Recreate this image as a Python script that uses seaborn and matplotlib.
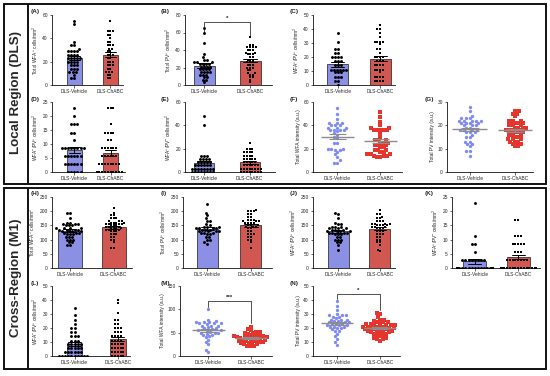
import numpy as np
import pandas as pd
import matplotlib
matplotlib.use("Agg")
import matplotlib.pyplot as plt
import seaborn as sns
from matplotlib.patches import Rectangle
from matplotlib.lines import Line2D

groups = ["DLS-Vehicle", "DLS-ChABC"]

# ---- data ----
A_veh = [55, 52, 37, 34, 34, 31, 29, 29, 29, 29, 26, 26, 26, 26, 23, 23, 23, 23, 23, 20, 20, 20, 20, 17, 17, 17, 14, 14, 14, 11, 11, 11, 9, 6, 6]
A_cha = [55, 46, 46, 46, 43, 43, 40, 37, 37, 34, 34, 34, 31, 31, 29, 29, 26, 26, 26, 23, 23, 20, 20, 20, 17, 17, 17, 14, 14, 11, 11, 11, 9, 9, 6, 6]
B_veh = [65, 60, 48, 35, 32, 29, 29, 26, 26, 26, 24, 24, 24, 24, 21, 21, 21, 21, 18, 18, 18, 18, 15, 15, 15, 15, 12, 12, 12, 9, 9, 6, 6, 3]
B_cha = [55, 46, 46, 43, 43, 43, 43, 40, 40, 40, 37, 37, 35, 35, 35, 32, 32, 29, 29, 29, 26, 26, 26, 23, 23, 23, 20, 20, 20, 17, 17, 14, 14, 12, 12, 9, 9, 6, 3]
C_veh = [37, 31, 26, 26, 23, 23, 20, 20, 20, 20, 17, 17, 17, 14, 14, 14, 11, 11, 11, 11, 11, 11, 9, 9, 9, 6, 6, 6, 3, 3, 0]
C_cha = [43, 40, 40, 37, 34, 31, 31, 31, 31, 29, 26, 26, 23, 20, 20, 20, 20, 17, 17, 17, 14, 14, 14, 14, 11, 11, 11, 11, 9, 6, 6, 6, 6, 3, 3, 3, 3]
D_veh = [23, 20, 17, 17, 17, 14, 14, 11.4, 8.6, 8.6, 8.6, 8.6, 8.6, 8.6, 8.6, 8.6, 5.7, 5.7, 5.7, 5.7, 5.7, 5.7, 2.9, 2.9, 2.9, 2.9, 2.9, 2.9, 0, 0, 0, 0, 0]
D_cha = [23, 23, 23, 17, 14, 14, 14, 14, 11.4, 11.4, 8.6, 8.6, 8.6, 8.6, 8.6, 8.6, 5.7, 5.7, 5.7, 5.7, 5.7, 5.7, 2.9, 2.9, 2.9, 2.9, 2.9, 2.9, 2.9, 2.9, 0, 0, 0, 0, 0, 0, 0, 0, 0, 0]
E_veh = [48, 40, 14, 14, 14, 11, 11, 11, 11, 8.6, 8.6, 8.6, 8.6, 8.6, 5.7, 5.7, 5.7, 5.7, 5.7, 5.7, 2.9, 2.9, 2.9, 2.9, 2.9, 2.9, 2.9, 2.9, 0, 0, 0, 0, 0, 0, 0, 0]
E_cha = [25, 20, 20, 20, 17, 17, 17, 17, 14, 14, 14, 14, 11, 11, 11, 11, 11, 8.6, 8.6, 8.6, 8.6, 8.6, 5.7, 5.7, 5.7, 5.7, 5.7, 5.7, 2.9, 2.9, 2.9, 2.9, 2.9, 2.9, 2.9, 2.9, 0, 0, 0, 0, 0, 0, 0, 0]
F_veh = [55, 50, 45, 42, 42, 42, 40, 40, 40, 38, 38, 38, 36, 36, 36, 36, 35, 33, 32, 30, 29, 25, 25, 20, 20, 20, 19, 19, 17, 15, 13, 10, 8, 8]
F_cha = [51, 47, 43, 40, 38, 38, 36, 36, 36, 36, 36, 33, 30, 27, 27, 27, 25, 25, 25, 23, 23, 23, 21, 21, 19, 19, 19, 17, 17, 15, 15, 15, 14, 14, 14, 13, 13]
G_veh = [28, 26, 24, 23, 23, 23, 22, 22, 22, 22, 22, 21, 21, 21, 21, 20, 20, 20, 19, 19, 18, 18, 18, 18, 17, 17, 17, 16, 15, 15, 13, 13, 12, 12, 11, 9, 9, 7]
G_cha = [26, 26, 25, 25, 24, 22, 22, 22, 21, 21, 21, 20, 20, 20, 19, 19, 19, 19, 18, 18, 18, 18, 17, 17, 17, 16, 16, 16, 15, 15, 14, 14, 14, 13, 13, 13, 12, 12, 11, 11]
H_veh = [195, 195, 175, 160, 160, 155, 155, 155, 150, 150, 150, 140, 140, 140, 140, 135, 135, 135, 135, 130, 130, 130, 130, 125, 125, 125, 120, 120, 120, 110, 110, 110, 100, 100, 100, 90, 90, 80, 80]
H_cha = [210, 195, 185, 185, 175, 175, 175, 165, 165, 165, 160, 160, 160, 160, 155, 155, 155, 155, 150, 150, 150, 145, 145, 145, 140, 140, 140, 140, 135, 135, 135, 130, 130, 130, 120, 120, 120, 110, 110, 100, 100, 90, 70, 70]
I_veh = [225, 195, 185, 175, 165, 165, 155, 150, 145, 145, 145, 140, 140, 140, 140, 135, 135, 135, 130, 130, 130, 130, 125, 125, 125, 120, 120, 110, 110, 100, 100, 90, 85]
I_cha = [205, 200, 200, 200, 190, 190, 180, 180, 170, 170, 170, 165, 165, 165, 160, 160, 160, 160, 150, 150, 150, 145, 145, 145, 140, 140, 130, 130, 120, 120, 120, 110, 110, 100, 100, 90, 70]
J_veh = [195, 190, 175, 160, 155, 155, 145, 145, 145, 140, 140, 140, 135, 135, 135, 130, 130, 130, 130, 125, 125, 125, 125, 120, 120, 120, 110, 110, 100, 100, 100, 90, 90, 80, 65]
J_cha = [205, 190, 190, 180, 175, 175, 165, 165, 165, 155, 155, 155, 155, 150, 150, 150, 150, 145, 145, 145, 140, 140, 140, 130, 130, 130, 120, 120, 120, 110, 110, 100, 100, 90, 90, 80, 65, 60]
K_veh = [23, 11.4, 8.6, 8.6, 5.7, 2.9, 2.9, 2.9, 2.9, 2.9, 2.9, 2.9, 2.9, 0, 0, 0, 0, 0, 0, 0, 0, 0, 0, 0, 0, 0, 0, 0, 0, 0, 0, 0, 0, 0, 0]
K_cha = [17, 17, 11.4, 11.4, 11.4, 8.6, 8.6, 8.6, 8.6, 8.6, 5.7, 5.7, 5.7, 2.9, 2.9, 2.9, 2.9, 2.9, 2.9, 2.9, 2.9, 0, 0, 0, 0, 0, 0, 0, 0, 0, 0, 0, 0, 0, 0, 0, 0, 0, 0]
L_veh = [34, 29, 26, 23, 20, 20, 17, 17, 14, 14, 14, 11, 11, 11, 8.6, 8.6, 8.6, 8.6, 8.6, 5.7, 5.7, 5.7, 5.7, 5.7, 2.9, 2.9, 2.9, 2.9, 2.9, 2.9, 0, 0, 0, 0, 0, 0, 0, 0, 0, 0]
L_cha = [40, 38, 31, 26, 26, 23, 23, 20, 20, 20, 17, 17, 17, 14, 14, 14, 14, 11, 11, 11, 11, 8.6, 8.6, 8.6, 8.6, 8.6, 5.7, 5.7, 5.7, 5.7, 5.7, 2.9, 2.9, 2.9, 2.9, 2.9, 0, 0, 0, 0, 0]
M_veh = [100, 78, 75, 72, 72, 72, 70, 70, 70, 68, 65, 65, 65, 62, 60, 60, 58, 55, 55, 55, 52, 50, 50, 50, 48, 45, 45, 42, 40, 35, 30, 25, 12, 8]
M_cha = [62, 58, 55, 52, 52, 50, 50, 48, 45, 45, 45, 42, 42, 42, 40, 40, 40, 40, 38, 38, 38, 35, 35, 35, 32, 32, 32, 30, 30, 28, 28, 28, 25, 25, 22, 22, 22]
N_veh = [39, 36, 33, 30, 29, 29, 29, 28, 28, 27, 26, 26, 26, 25, 25, 24, 24, 24, 23, 23, 23, 22, 22, 22, 21, 21, 21, 20, 20, 19, 18, 18, 16, 14, 12, 10, 8]
N_cha = [31, 30, 28, 26, 26, 25, 24, 24, 24, 23, 23, 23, 22, 22, 22, 22, 21, 21, 21, 21, 20, 20, 20, 20, 19, 19, 19, 18, 18, 18, 18, 17, 17, 17, 16, 16, 15, 15, 14, 13, 13, 12, 12, 11]

ylabels = {
    "A": "Total WFA$^{+}$ cells/mm$^{2}$",
    "B": "Total PV$^{+}$ cells/mm$^{2}$",
    "C": "WFA$^{+}$/PV$^{+}$ cells/mm$^{2}$",
    "D": "WFA$^{-}$/PV$^{+}$ cells/mm$^{2}$",
    "E": "WFA$^{+}$/PV$^{-}$ cells/mm$^{2}$",
    "F": "Total WFA intensity (a.u.)",
    "G": "Total PV intensity (a.u.)",
    "H": "Total WFA$^{+}$ cells/mm$^{2}$",
    "I": "Total PV$^{+}$ cells/mm$^{2}$",
    "J": "WFA$^{+}$/PV$^{+}$ cells/mm$^{2}$",
    "K": "WFA$^{+}$/PV$^{-}$ cells/mm$^{2}$",
    "L": "WFA$^{-}$/PV$^{+}$ cells/mm$^{2}$",
    "M": "Total WFA intensity (a.u.)",
    "N": "Total PV intensity (a.u.)",
}

# ---- style ----
sns.set_theme(style="ticks")
plt.rcParams['font.family'] = ['Liberation Sans', 'DejaVu Sans']
plt.rcParams['mathtext.fontset'] = 'custom'
plt.rcParams['mathtext.rm'] = 'Liberation Sans'
plt.rcParams['mathtext.it'] = 'Liberation Sans'

W, H = 550, 376
fig = plt.figure(figsize=(W / 100, H / 100), dpi=100)
fig.patch.set_facecolor("white")

BAR_BLUE = "#7c83f4"
BAR_RED = "#e8433a"
PT_BLUE = "#7f8af5"
PT_RED = "#e6352c"


def px_axes(x0, ytop, x1, ybot):
    return fig.add_axes([x0 / W, 1 - ybot / H, (x1 - x0) / W, (ybot - ytop) / H])


# panel: letter, veh, cha, kind, ymax, ystep, (x0, ytop, x1, ybot), xlim, bar width, letter pos
panels = [
    ("A", A_veh, A_cha, "bar", 60, 20, (52, 15, 123, 85), (-0.62, 1.35), 0.42, (31, 11)),
    ("B", B_veh, B_cha, "bar", 80, 20, (185, 15, 272, 85), (-0.42, 1.47), 0.45, (161, 11)),
    ("C", C_veh, C_cha, "bar", 50, 10, (313, 15, 395, 85), (-0.58, 1.35), 0.5, (290, 11)),
    ("D", D_veh, D_cha, "bar", 25, 5, (52, 102, 125, 172), (-0.62, 1.4), 0.42, (31, 99)),
    ("E", E_veh, E_cha, "bar", 60, 20, (185, 102, 275, 172), (-0.42, 1.56), 0.44, (161, 99)),
    ("F", F_veh, F_cha, "scatter", 60, 20, (313, 102, 402, 172), (-0.56, 1.5), None, (290, 99)),
    ("G", G_veh, G_cha, "scatter", 30, 10, (447, 102, 533, 172), (-0.5, 1.4), None, (425, 99)),
    ("H", H_veh, H_cha, "bar", 250, 50, (52, 197, 132, 268), (-0.41, 1.42), 0.55, (31, 194)),
    ("I", I_veh, I_cha, "bar", 250, 50, (183, 197, 272, 268), (-0.55, 1.48), 0.48, (161, 194)),
    ("J", J_veh, J_cha, "bar", 250, 50, (313, 197, 395, 268), (-0.6, 1.36), 0.5, (290, 194)),
    ("K", K_veh, K_cha, "bar", 25, 5, (452, 197, 540, 268), (-0.52, 1.5), 0.53, (425, 194)),
    ("L", L_veh, L_cha, "bar", 50, 10, (52, 286, 130, 356), (-0.52, 1.28), 0.36, (31, 283)),
    ("M", M_veh, M_cha, "scatter", 150, 50, (180, 286, 272, 356), (-0.67, 1.5), None, (161, 283)),
    ("N", N_veh, N_cha, "scatter", 50, 10, (313, 286, 400, 356), (-0.56, 1.47), None, (290, 283)),
]

# significance brackets: letter -> (bracket y, left drop y, right drop y, label)
brackets = {
    "B": (72, 60, 56, "*"),
    "M": (118, 104, 70, "***"),
    "N": (44, 41, 33, "*"),
}

for letter, veh, cha, kind, ymax, ystep, rect, xlim, bw, lpos in panels:
    ax = px_axes(*rect)
    df = pd.DataFrame({
        "group": [groups[0]] * len(veh) + [groups[1]] * len(cha),
        "value": list(veh) + list(cha),
    })
    if kind == "bar":
        sns.barplot(data=df, x="group", y="value", hue="group", order=groups,
                    hue_order=groups, palette=[BAR_BLUE, BAR_RED],
                    errorbar="se", capsize=0.3, width=bw, legend=False,
                    edgecolor="#1a1a1a", linewidth=0.5,
                    err_kws={"color": "black", "linewidth": 0.7}, ax=ax)
        for g, m, sz in zip(groups, ["o", "s"], [2.1, 1.9]):
            sns.swarmplot(data=df[df.group == g], x="group", y="value",
                          order=groups, color="black", marker=m, size=sz,
                          linewidth=0, ax=ax, zorder=4, warn_thresh=1.0)
    else:
        for g, m, c, sz in zip(groups, ["o", "s"], [PT_BLUE, PT_RED], [2.4, 2.3]):
            sns.swarmplot(data=df[df.group == g], x="group", y="value",
                          order=groups, color=c, marker=m, size=sz,
                          linewidth=0, ax=ax, zorder=2, warn_thresh=1.0)
        for i, vals in enumerate([veh, cha]):
            v = np.asarray(vals, dtype=float)
            mu = v.mean()
            se = v.std(ddof=1) / np.sqrt(len(v))
            ax.hlines(mu, i - 0.38, i + 0.38, color="#8c8c8c", lw=1.0, zorder=5)
            ax.vlines(i, mu - se, mu + se, color="#8c8c8c", lw=0.8, zorder=5)
            ax.hlines([mu - se, mu + se], i - 0.2, i + 0.2, color="#8c8c8c", lw=0.8, zorder=5)

    ax.set_xlim(*xlim)
    ax.set_ylim(0, ymax)
    ax.set_yticks(np.arange(0, ymax + 0.1, ystep))
    ax.set_xticks([0, 1])
    ax.set_xticklabels(groups)
    ax.set_xlabel("")
    ax.set_ylabel(ylabels[letter], fontsize=3.5, labelpad=2)
    ax.tick_params(axis="both", labelsize=3.5, length=1.8, width=0.5, pad=1.2)
    for s in ["top", "right"]:
        ax.spines[s].set_visible(False)
    for s in ["left", "bottom"]:
        ax.spines[s].set_linewidth(0.6)
        ax.spines[s].set_color("#111111")
    ax.set_facecolor("none")

    if letter in brackets:
        by, ly, ry, lab = brackets[letter]
        ax.plot([0, 0, 1, 1], [ly, by, by, ry], color="#333333", lw=0.6, clip_on=False)
        ax.text(0.5, by + ymax * 0.02, lab, ha="center", va="bottom", fontsize=4.5,
                fontweight="bold")

    fig.text(lpos[0] / W, 1 - lpos[1] / H, f"({letter})", fontsize=4.6,
             fontweight="bold", ha="left", va="center")

# ---- outer frames and row labels ----
for (ytop, ybot) in [(4, 184), (188, 369)]:
    fig.patches.append(Rectangle((4 / W, 1 - ybot / H), (546 - 4) / W, (ybot - ytop) / H,
                                 transform=fig.transFigure, fill=False,
                                 edgecolor="#111111", lw=1.4))
    fig.lines.append(Line2D([28 / W, 28 / W], [1 - ytop / H, 1 - ybot / H],
                            transform=fig.transFigure, color="#111111", lw=1.4))

fig.text(16 / W, 1 - 93 / H, "Local Region (DLS)", rotation=90, ha="center",
         va="center", fontsize=9.6, fontweight="bold")
fig.text(16 / W, 1 - 278 / H, "Cross-Region (M1)", rotation=90, ha="center",
         va="center", fontsize=9.6, fontweight="bold")

fig.savefig("out.png", dpi=100, facecolor="white")
